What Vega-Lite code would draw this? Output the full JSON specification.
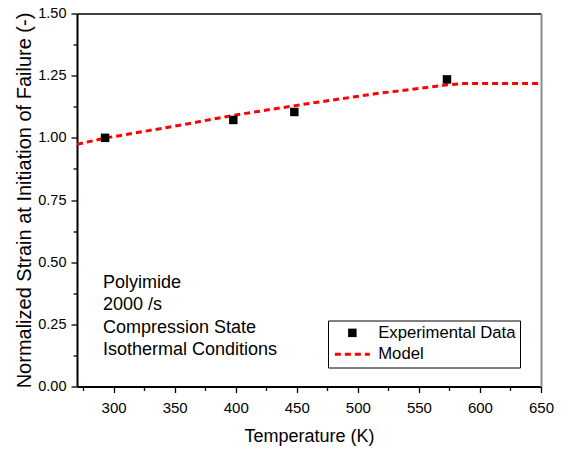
{
  "$schema": "https://vega.github.io/schema/vega-lite/v6.json",
  "width": 464,
  "height": 373,
  "autosize": "none",
  "padding": {"left": 77, "top": 13.5, "right": 28, "bottom": 65.5},
  "background": "white",
  "config": {
    "font": "Liberation Sans",
    "view": {"stroke": null},
    "axis": {"grid": false, "labelFlush": false, "labelColor": "black", "titleColor": "black", "tickColor": "black", "domainColor": "black", "labelFont": "Liberation Sans", "titleFont": "Liberation Sans", "titleFontWeight": "normal"}
  },
  "datasets": {
    "model": [
      {"T": 270, "v": 0.974, "series": "Model"},
      {"T": 293, "v": 0.999, "series": "Model"},
      {"T": 350, "v": 1.047, "series": "Model"},
      {"T": 400, "v": 1.092, "series": "Model"},
      {"T": 457, "v": 1.136, "series": "Model"},
      {"T": 514, "v": 1.177, "series": "Model"},
      {"T": 573, "v": 1.213, "series": "Model"},
      {"T": 585, "v": 1.218, "series": "Model"},
      {"T": 650, "v": 1.218, "series": "Model"}
    ],
    "exp": [
      {"T": 293, "v": 1.0, "series": "Experimental Data"},
      {"T": 398, "v": 1.072, "series": "Experimental Data"},
      {"T": 448, "v": 1.104, "series": "Experimental Data"},
      {"T": 573, "v": 1.235, "series": "Experimental Data"}
    ],
    "notes": [
      {"T": 291.3, "v": 0.395, "label": "Polyimide"},
      {"T": 291.3, "v": 0.3076, "label": "2000 /s"},
      {"T": 291.3, "v": 0.2164, "label": "Compression State"},
      {"T": 291.3, "v": 0.1267, "label": "Isothermal Conditions"}
    ]
  },
  "resolve": {"axis": {"x": "independent", "y": "independent"}},
  "layer": [
    {
      "data": {"name": "model"},
      "mark": {"type": "line", "strokeWidth": 3, "strokeDash": [6, 4]},
      "encoding": {
        "x": {"field": "T", "type": "quantitative", "scale": {"domain": [270, 650], "nice": false, "zero": false},
          "axis": {"orient": "bottom", "values": [300, 350, 400, 450, 500, 550, 600, 650], "format": "d", "tickSize": 6, "tickWidth": 1.3, "domainWidth": 2, "labelFontSize": 15, "labelPadding": 8, "labelFlush": false, "title": "Temperature (K)", "titleFontSize": 18, "titlePadding": 12}},
        "y": {"field": "v", "type": "quantitative", "scale": {"domain": [0, 1.5], "nice": false, "zero": false},
          "axis": {"orient": "left", "values": [0, 0.25, 0.5, 0.75, 1.0, 1.25, 1.5], "format": ".2f", "tickSize": 6, "tickWidth": 1.3, "domainWidth": 2, "labelFontSize": 14.5, "labelPadding": 5, "labelFlush": false, "title": "Normalized Strain at Initiation of Failure (-)", "titleFontSize": 20, "titlePadding": 3}},
        "color": {"field": "series", "type": "nominal",
          "scale": {"domain": ["Experimental Data", "Model"], "range": ["black", "#ff0000"]},
          "legend": {"title": null, "orient": "none", "legendX": 251, "legendY": 307, "strokeColor": "black", "padding": 4, "labelFont": "Liberation Sans", "labelFontSize": 16.7, "labelColor": "black", "labelOffset": 29.5, "rowPadding": 3.5, "symbolSize": 100,
            "encode": {"symbols": {"update": {
              "shape": {"signal": "datum.value === 'Model' ? 'M-1.1,0H5.9' : 'M1.55,-0.85H3.25V0.85H1.55Z'"},
              "fill": {"signal": "datum.value === 'Model' ? 'transparent' : 'black'"},
              "stroke": {"signal": "datum.value === 'Model' ? '#ff0000' : 'transparent'"},
              "strokeWidth": {"signal": "datum.value === 'Model' ? 3 : 0"},
              "strokeDash": {"signal": "datum.value === 'Model' ? [6, 4] : [1, 0]"},
              "size": {"value": 100},
              "opacity": {"value": 1}
            }}}}
        }
      }
    },
    {
      "data": {"name": "exp"},
      "mark": {"type": "point", "shape": "square", "filled": true, "size": 72, "opacity": 1},
      "encoding": {
        "x": {"field": "T", "type": "quantitative", "scale": {"domain": [270, 650], "nice": false, "zero": false},
          "axis": {"orient": "bottom", "values": [275, 325, 375, 425, 475, 525, 575, 625], "labels": false, "domain": false, "tickSize": 4, "tickWidth": 1.3, "title": null}},
        "y": {"field": "v", "type": "quantitative", "scale": {"domain": [0, 1.5], "nice": false, "zero": false},
          "axis": {"orient": "left", "values": [0.125, 0.375, 0.625, 0.875, 1.125, 1.375], "labels": false, "domain": false, "tickSize": 4, "tickWidth": 1.3, "title": null}},
        "color": {"field": "series", "type": "nominal",
          "scale": {"domain": ["Experimental Data", "Model"], "range": ["black", "#ff0000"]},
          "legend": {"title": null, "orient": "none", "legendX": 251, "legendY": 307, "strokeColor": "black", "padding": 4, "labelFont": "Liberation Sans", "labelFontSize": 16.7, "labelColor": "black", "labelOffset": 29.5, "rowPadding": 3.5, "symbolSize": 100,
            "encode": {"symbols": {"update": {
              "shape": {"signal": "datum.value === 'Model' ? 'M-1.1,0H5.9' : 'M1.55,-0.85H3.25V0.85H1.55Z'"},
              "fill": {"signal": "datum.value === 'Model' ? 'transparent' : 'black'"},
              "stroke": {"signal": "datum.value === 'Model' ? '#ff0000' : 'transparent'"},
              "strokeWidth": {"signal": "datum.value === 'Model' ? 3 : 0"},
              "strokeDash": {"signal": "datum.value === 'Model' ? [6, 4] : [1, 0]"},
              "size": {"value": 100},
              "opacity": {"value": 1}
            }}}}
        }
      }
    },
    {
      "data": {"name": "notes"},
      "mark": {"type": "text", "align": "left", "baseline": "alphabetic", "fontSize": 18, "font": "Liberation Sans", "color": "black"},
      "encoding": {
        "x": {"field": "T", "type": "quantitative", "scale": {"domain": [270, 650], "nice": false, "zero": false},
          "axis": {"orient": "top", "labels": false, "ticks": false, "domainWidth": 1.5, "title": null}},
        "y": {"field": "v", "type": "quantitative", "scale": {"domain": [0, 1.5], "nice": false, "zero": false},
          "axis": {"orient": "right", "labels": false, "ticks": false, "domainWidth": 2, "domainColor": "#8c8c8c", "title": null}},
        "text": {"field": "label"}
      }
    }
  ]
}
